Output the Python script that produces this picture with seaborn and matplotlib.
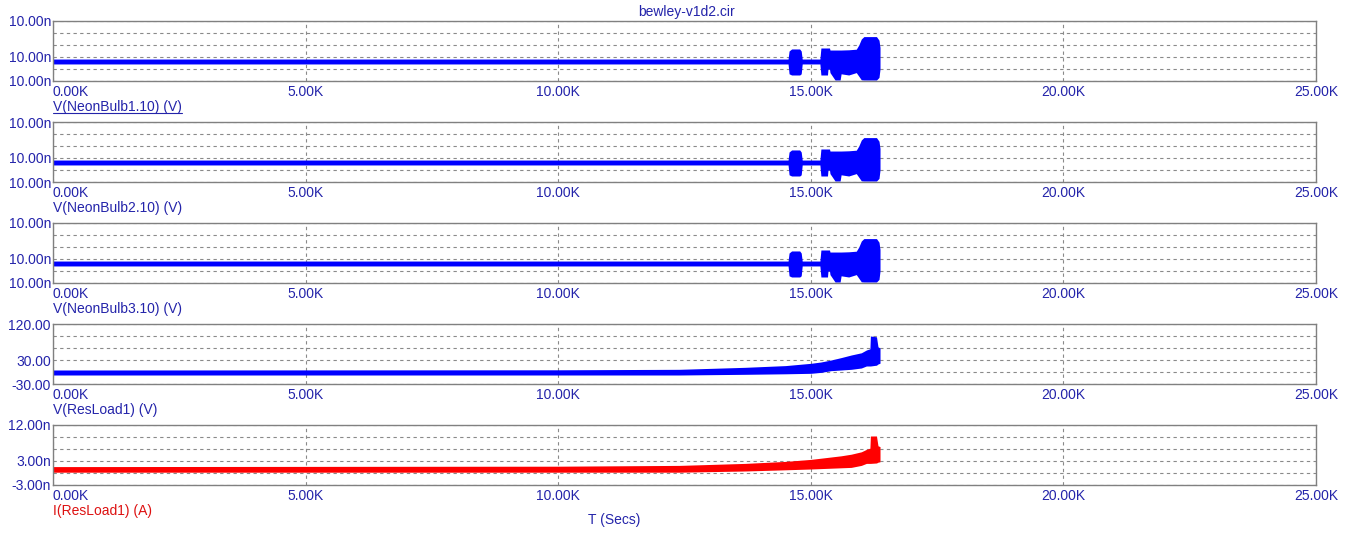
import matplotlib
matplotlib.use("Agg")
import matplotlib.pyplot as plt
import seaborn as sns
from matplotlib.lines import Line2D

# time axis, seconds
t_neon = [0, 14550, 14570, 14620, 14780, 14810, 14830, 15180, 15200, 15330, 15340, 15370,
          15380, 15480, 15580, 15600, 15750, 15900, 15950, 16000, 16050, 16300, 16350, 16370]
# neon bulb envelopes (nV), the three bulbs look the same
neon_lo = [9.99942, 9.99942, 9.99860, 9.99850, 9.99850, 9.99860, 9.99942, 9.99942, 9.99850,
           9.99850, 9.99900, 9.99900, 9.99870, 9.99808, 9.99808, 9.99860, 9.99850, 9.99870,
           9.99840, 9.99810, 9.99808, 9.99808, 9.99830, 9.99900]
neon_hi = [9.99983, 9.99983, 10.00050, 10.00067, 10.00067, 10.00050, 9.99983, 9.99983,
           10.00075, 10.00075, 10.00075, 10.00075, 10.00058, 10.00058, 10.00058, 10.00058,
           10.00060, 10.00065, 10.00100, 10.00150, 10.00170, 10.00170, 10.00140, 10.00080]

t_load = [0, 10000, 12400, 13700, 14500, 15000, 15200, 15400, 15600, 15800, 16000, 16100,
          16170, 16180, 16300, 16330, 16370]
vload_lo = [-7.5, -7.5, -7.5, -5.8, -4.5, -3.3, -1, 3.3, 5, 6.7, 10, 15, 15, 15, 17, 20, 22]
vload_hi = [5, 5.5, 6.7, 11.7, 16, 21.7, 25, 30, 36, 42.5, 48, 55, 58, 90, 88, 63, 60]
iload_lo = [0.2, 0.2, 0.2, 0.5, 0.8, 1.0, 1.1, 1.2, 1.3, 1.4, 1.9, 2.4, 2.4, 2.4, 2.5, 2.7, 2.8]
iload_hi = [1.6, 1.7, 1.9, 2.4, 2.9, 3.4, 3.7, 4.0, 4.3, 4.7, 5.3, 5.9, 6.2, 9.25, 9.25, 6.8, 6.6]

x_ticks = [0, 5000, 10000, 15000, 20000, 25000]
x_tick_labels = ["0.00K", "5.00K", "10.00K", "15.00K", "20.00K", "25.00K"]

neon_ticks = [9.998, 9.999, 10.000, 10.001, 10.002, 10.003]
vload_ticks = [-30, 0, 30, 60, 90, 120]
iload_ticks = [-3, 0, 3, 6, 9, 12]

panels = [
    ("V(NeonBulb1.10) (V)", t_neon, neon_lo, neon_hi, neon_ticks, "n", "#0000ff"),
    ("V(NeonBulb2.10) (V)", t_neon, neon_lo, neon_hi, neon_ticks, "n", "#0000ff"),
    ("V(NeonBulb3.10) (V)", t_neon, neon_lo, neon_hi, neon_ticks, "n", "#0000ff"),
    ("V(ResLoad1) (V)", t_load, vload_lo, vload_hi, vload_ticks, "", "#0000ff"),
    ("I(ResLoad1) (A)", t_load, iload_lo, iload_hi, iload_ticks, "n", "#ff0000"),
]

sns.set_theme(style="white")
plt.rcParams["font.family"] = ["Liberation Sans", "DejaVu Sans"]

text_blue = "#2424aa"
W, H = 1353, 541
fig = plt.figure(figsize=(W / 100, H / 100), dpi=100)
fig.patch.set_facecolor("white")

left, right = 53, 1316
tops = [21, 122, 223, 324, 425]
ph = 60
axes = []
for i, (label, t, lo, hi, ticks, unit, color) in enumerate(panels):
    ax = fig.add_axes([left / W, 1 - (tops[i] + ph) / H, (right - left) / W, ph / H])
    ax.set_facecolor("white")
    ax.fill_between(t, lo, hi, color=color, lw=0, antialiased=False)
    ax.set_xlim(0, 25000)
    ax.set_ylim(ticks[0], ticks[-1])
    ax.set_xticks(x_ticks)
    ax.set_xticklabels(x_tick_labels)
    ax.get_xticklabels()[0].set_ha("left")
    ax.set_yticks(ticks)
    ylabels = ["" for _ in ticks]
    for k in (0, 2, 5):
        ylabels[k] = "{:.2f}{}".format(ticks[k], unit)
    ax.set_yticklabels(ylabels)
    ax.tick_params(axis="both", length=0, labelsize=10, labelcolor=text_blue)
    ax.tick_params(axis="x", pad=3)
    ax.tick_params(axis="y", pad=1.5)
    ax.grid(True, ls=(0, (3, 3)), color="#8a8a8a", lw=0.8)
    for s in ax.spines.values():
        s.set_color("#808080")
        s.set_linewidth(1.0)
    lbl_color = "#dd1111" if color == "#ff0000" else text_blue
    txt = ax.text(0, -26 / ph, label, transform=ax.transAxes, ha="left", va="center",
                  fontsize=10, color=lbl_color)
    axes.append((ax, txt))

fig.text(687 / W, 1 - 12 / H, "bewley-v1d2.cir", ha="center", va="center",
         fontsize=10, color=text_blue)
fig.text(614 / W, 1 - 520 / H, "T (Secs)", ha="center", va="center",
         fontsize=10, color=text_blue)

# underline the selected trace name
fig.canvas.draw()
bb = axes[0][1].get_window_extent(fig.canvas.get_renderer())
uy = bb.y0 + 1
fig.add_artist(Line2D([bb.x0 / W, bb.x1 / W], [uy / H, uy / H], color=text_blue, lw=0.8,
                      transform=fig.transFigure))

fig.savefig("out.png", dpi=100, facecolor="white")
